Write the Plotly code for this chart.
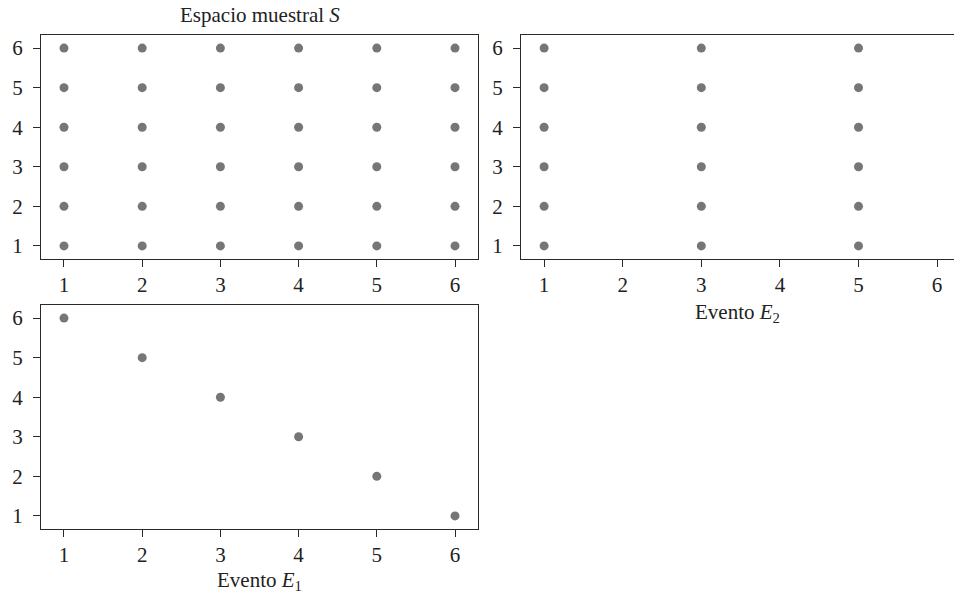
import plotly.graph_objects as go

# Data
tick_vals = [1, 2, 3, 4, 5, 6]
tick_text = ["1", "2", "3", "4", "5", "6"]

S_x = [1, 1, 1, 1, 1, 1, 2, 2, 2, 2, 2, 2, 3, 3, 3, 3, 3, 3,
       4, 4, 4, 4, 4, 4, 5, 5, 5, 5, 5, 5, 6, 6, 6, 6, 6, 6]
S_y = [1, 2, 3, 4, 5, 6, 1, 2, 3, 4, 5, 6, 1, 2, 3, 4, 5, 6,
       1, 2, 3, 4, 5, 6, 1, 2, 3, 4, 5, 6, 1, 2, 3, 4, 5, 6]

E2_x = [1, 1, 1, 1, 1, 1, 3, 3, 3, 3, 3, 3, 5, 5, 5, 5, 5, 5]
E2_y = [1, 2, 3, 4, 5, 6, 1, 2, 3, 4, 5, 6, 1, 2, 3, 4, 5, 6]

E1_x = [1, 2, 3, 4, 5, 6]
E1_y = [6, 5, 4, 3, 2, 1]

title_S = "Espacio muestral <i>S</i>"
label_E1 = "Evento <i>E</i><sub>1</sub>"
label_E2 = "Evento <i>E</i><sub>2</sub>"

W, H = 954, 601
FONT = "Liberation Serif, Times New Roman, serif"
FS = 21
DOT = "rgb(118,118,122)"
AX = "#2a2a2a"

def px(x):
    return x / W

def py(y):
    return 1 - y / H

fig = go.Figure()
marker = dict(color=DOT, size=9, line=dict(width=0))
fig.add_trace(go.Scatter(x=S_x, y=S_y, mode="markers", marker=marker,
                         xaxis="x", yaxis="y", showlegend=False, hoverinfo="x+y"))
fig.add_trace(go.Scatter(x=E2_x, y=E2_y, mode="markers", marker=marker,
                         xaxis="x2", yaxis="y2", showlegend=False, hoverinfo="x+y"))
fig.add_trace(go.Scatter(x=E1_x, y=E1_y, mode="markers", marker=marker,
                         xaxis="x3", yaxis="y3", showlegend=False, hoverinfo="x+y"))

common = dict(
    tickmode="array", tickvals=tick_vals, ticktext=tick_text,
    ticks="outside", ticklen=7, tickwidth=1, tickcolor=AX,
    showline=True, linecolor=AX, linewidth=1,
    showgrid=False, zeroline=False,
    tickfont=dict(family=FONT, size=FS, color="#222"),
)
ycommon = dict(common, ticklabelstandoff=6)

xr = [0.706, 6.294]
yr = [0.67, 6.33]

top_dom = [py(259), py(35)]
bot_dom = [py(529), py(305)]
left_dom = [px(41), px(478)]
right_dom = [px(521), 1.0]
xr2 = [0.706, 0.706 + (954 - 521) / 78.6]

fig.update_layout(
    width=W, height=H,
    margin=dict(l=0, r=0, t=0, b=0),
    paper_bgcolor="white", plot_bgcolor="white",
    font=dict(family=FONT, size=FS, color="#222"),
    xaxis=dict(domain=left_dom, range=xr, anchor="y", mirror=True, **common),
    yaxis=dict(domain=top_dom, range=yr, anchor="x", mirror=True, **ycommon),
    xaxis2=dict(domain=right_dom, range=xr2, anchor="y2", mirror=True, **common),
    yaxis2=dict(domain=top_dom, range=yr, anchor="x2", mirror=False, **ycommon),
    xaxis3=dict(domain=left_dom, range=xr, anchor="y3", mirror=True, **common),
    yaxis3=dict(domain=bot_dom, range=yr, anchor="x3", mirror=True, **ycommon),
    annotations=[
        dict(text=title_S, x=px(259.5), y=py(29), xref="paper", yref="paper",
             xanchor="center", yanchor="bottom", showarrow=False,
             font=dict(family=FONT, size=FS, color="#222")),
        dict(text=label_E2, x=px(737), y=py(298), xref="paper", yref="paper",
             xanchor="center", yanchor="top", showarrow=False,
             font=dict(family=FONT, size=FS, color="#222")),
        dict(text=label_E1, x=px(259.5), y=py(566), xref="paper", yref="paper",
             xanchor="center", yanchor="top", showarrow=False,
             font=dict(family=FONT, size=FS, color="#222")),
    ],
)

fig.write_html(
    "out.html",
    config={"displayModeBar": False},
    post_script="document.body.style.margin='0';document.body.style.overflow='hidden';",
)
